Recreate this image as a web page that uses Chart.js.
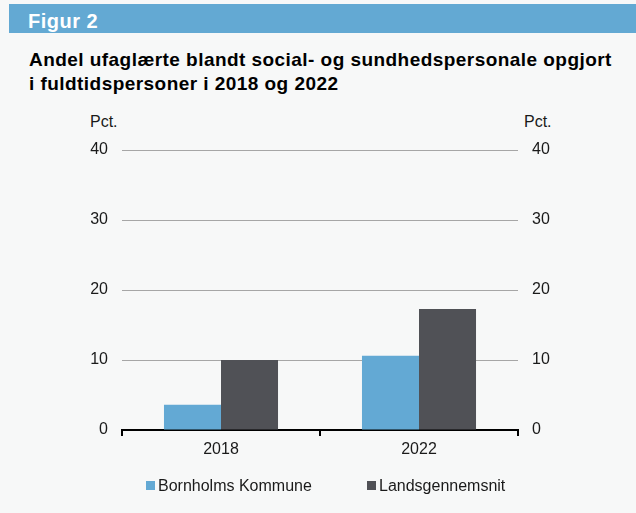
<!DOCTYPE html>
<html>
<head>
<meta charset="utf-8">
<script src="https://cdn.jsdelivr.net/npm/chart.js@4"></script>
<style>
  html, body { margin: 0; padding: 0; }
  body { width: 636px; height: 513px; background: #f7f8f8; position: relative; overflow: hidden; font-family: "Liberation Sans", Arial, sans-serif; }
  #hdr { position: absolute; left: 9px; right: 0; top: 4px; height: 29px; overflow: hidden; background: #63a9d3; color: #fff; font-weight: bold; font-size: 20px; letter-spacing: 0.5px; line-height: 35px; padding-left: 19px; box-sizing: border-box; }
  #title { position: absolute; left: 29px; top: 48px; font-weight: bold; font-size: 19px; letter-spacing: 0.45px; line-height: 24px; color: #000; white-space: nowrap; }
  .pct { position: absolute; top: 113px; font-size: 16px; color: #1a1a1a; }
  #wrap { position: absolute; left: 0; top: 0; width: 636px; height: 513px; }
  #legend { position: absolute; top: 476px; left: 0; width: 636px; font-size: 16px; color: #1a1a1a; }
  .li { position: absolute; top: 0; white-space: nowrap; line-height: 20px; }
  .sw { display: inline-block; width: 9px; height: 9px; margin-right: 3px; vertical-align: 1px; }
</style>
</head>
<body>
<div id="hdr">Figur 2</div>
<div id="title">Andel ufaglærte blandt social- og sundhedspersonale opgjort<br>i fuldtidspersoner i 2018 og 2022</div>
<div class="pct" style="left:90px">Pct.</div>
<div class="pct" style="left:524px">Pct.</div>
<div id="wrap"><canvas id="c" width="636" height="513"></canvas></div>
<div id="legend"></div>
<script>
const categories = ["2018", "2022"];
const seriesNames = ["Bornholms Kommune", "Landsgennemsnit"];
const bornholm = [3.6, 10.6];
const landsgennemsnit = [10.0, 17.3];
const yTicks = [0, 10, 20, 30, 40];
const colors = ["#63a9d4", "#505156"];

const legend = document.getElementById('legend');
const legendLeft = [146, 367];
seriesNames.forEach((n, i) => {
  const d = document.createElement('div');
  d.className = 'li';
  d.style.left = legendLeft[i] + 'px';
  d.innerHTML = '<span class="sw" style="background:' + colors[i] + '"></span>' + n;
  legend.appendChild(d);
});

const tickFont = { family: "'Liberation Sans', Arial, sans-serif", size: 16 };
new Chart(document.getElementById('c'), {
  type: 'bar',
  data: {
    labels: categories,
    datasets: [
      { label: seriesNames[0], data: bornholm, backgroundColor: colors[0], yAxisID: 'y', categoryPercentage: 0.576, barPercentage: 1 },
      { label: seriesNames[1], data: landsgennemsnit, backgroundColor: colors[1], yAxisID: 'y', categoryPercentage: 0.576, barPercentage: 1 }
    ]
  },
  options: {
    responsive: false,
    animation: false,
    layout: { padding: { top: 150, bottom: 53, left: 0, right: 0 } },
    plugins: { legend: { display: false }, tooltip: { enabled: false } },
    scales: {
      x: {
        type: 'category',
        grid: { offset: true, drawOnChartArea: false, drawTicks: true, tickLength: 6, color: '#000', lineWidth: 2 },
        border: { display: true, color: '#000', width: 2 },
        ticks: { color: '#1a1a1a', font: tickFont, padding: 4 },
        afterFit(s) { s.height = 30; }
      },
      y: {
        position: 'left', min: 0, max: 40,
        afterBuildTicks(s) { s.ticks = yTicks.map(v => ({ value: v })); },
        grid: { color: '#a6a6a6', lineWidth: 1, drawTicks: false },
        border: { display: false },
        ticks: { color: '#1a1a1a', font: tickFont, padding: 14 },
        afterFit(s) { s.width = 122; }
      },
      y2: {
        position: 'right', min: 0, max: 40,
        afterBuildTicks(s) { s.ticks = yTicks.map(v => ({ value: v })); },
        grid: { display: false, drawTicks: false },
        border: { display: false },
        ticks: { color: '#1a1a1a', font: tickFont, padding: 14 },
        afterFit(s) { s.width = 118; }
      }
    }
  }
});
</script>
</body>
</html>
